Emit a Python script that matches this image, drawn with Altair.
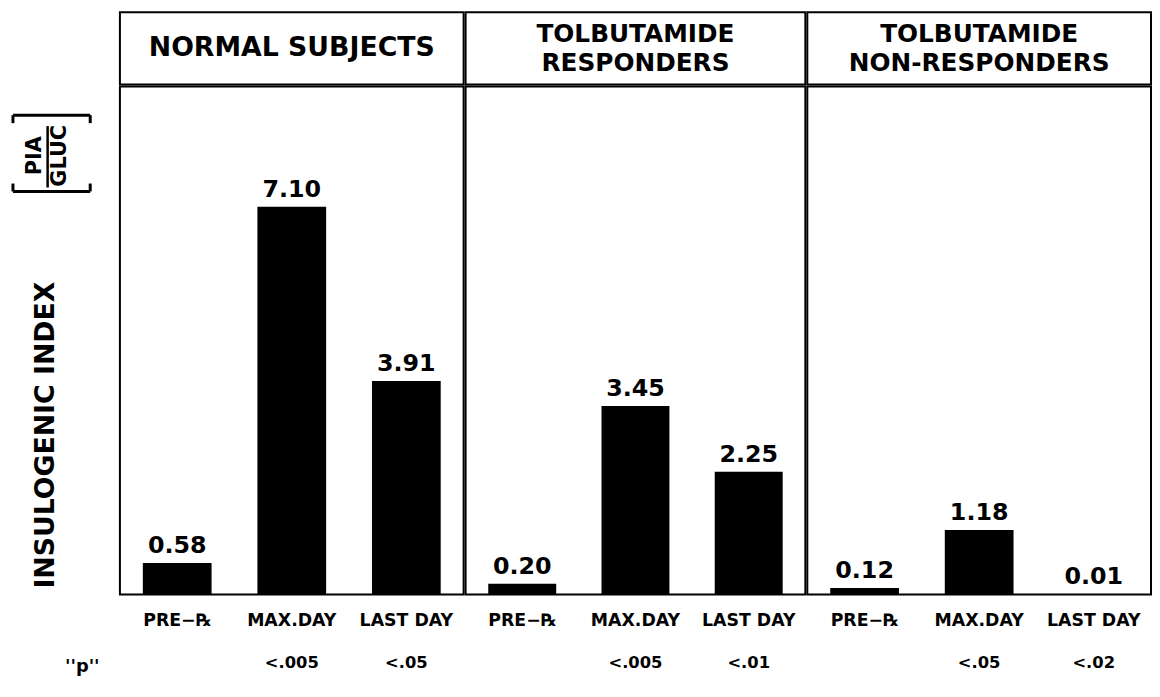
import altair as alt
import pandas as pd

FONT = "DejaVu Sans"

# ---- data ----
groups = ["NORMAL SUBJECTS", "TOLBUTAMIDE\nRESPONDERS", "TOLBUTAMIDE\nNON-RESPONDERS"]
periods = ["PRE\u2212\u211e", "MAX.DAY", "LAST DAY"]
normal_values = [0.58, 7.10, 3.91]
responder_values = [0.20, 3.45, 2.25]
nonresponder_values = [0.12, 1.18, 0.01]
normal_p = ["", "<.005", "<.05"]
responder_p = ["", "<.005", "<.01"]
nonresponder_p = ["", "<.05", "<.02"]
y_title = "INSULOGENIC INDEX"
frac_top = "PIA"
frac_bottom = "GLUC"
p_label = "''p''"

values = [normal_values, responder_values, nonresponder_values]
pvals = [normal_p, responder_p, nonresponder_p]

# ---- layout sizes ----
W = [347, 343, 347]
H_HEAD = 73
H_BAR = 513
LEFT = 110
Y_DOMAIN = [0, 9.3]
LINE_H = 29

frame = alt.ViewBackground(stroke="black", strokeWidth=2)
noframe = alt.ViewBackground(stroke="transparent")


def header(i):
    n_lines = groups[i].count("\n") + 1
    size = 27 if n_lines == 1 else 25
    df = pd.DataFrame({"g": [groups[i]]})
    return (
        alt.Chart(df)
        .mark_text(font=FONT, fontSize=size, fontWeight="bold", lineBreak="\n",
                   lineHeight=LINE_H, align="center", baseline="middle",
                   color="black")
        .encode(text="g:N", x=alt.value(W[i] / 2),
                y=alt.value(H_HEAD / 2 - (n_lines - 1) * LINE_H / 2))
        .properties(width=W[i], height=H_HEAD, view=frame)
    )


def bars(i):
    df = pd.DataFrame({"period": periods, "value": values[i], "p": pvals[i]})
    yscale = alt.Scale(domain=Y_DOMAIN)
    base = alt.Chart(df).encode(
        x=alt.X("period:N", sort=periods,
                scale=alt.Scale(paddingInner=0.4, paddingOuter=0.2),
                axis=alt.Axis(title=None, labelAngle=0, labelFont=FONT,
                              labelFontSize=17.5, labelFontWeight="bold",
                              labelColor="black", ticks=False,
                              tickSize=0, domain=False, labelPadding=17,
                              labelLimit=300, grid=False))
    )
    bar = base.mark_bar(color="black").encode(
        y=alt.Y("value:Q", scale=yscale, axis=None))
    lab = base.mark_text(baseline="bottom", dy=-5, font=FONT, fontSize=24,
                         fontWeight="bold", color="black").encode(
        y=alt.Y("value:Q", scale=yscale, axis=None),
        text=alt.Text("value:Q", format=".2f"))
    pt = base.mark_text(baseline="middle", font=FONT, fontSize=16.5,
                        fontWeight="bold", color="black").encode(
        y=alt.value(H_BAR + 69), text="p:N")
    return alt.layer(bar, lab, pt).properties(width=W[i], height=H_BAR, view=frame)


dummy = alt.Data(values=[{"a": 1}])

sp_head = (
    alt.Chart(dummy).mark_rule(strokeOpacity=0)
    .encode(x=alt.value(2), x2=alt.value(LEFT - 2), y=alt.value(H_HEAD / 2))
    .properties(width=LEFT, height=H_HEAD, view=noframe)
)

title_txt = alt.Chart(dummy).mark_text(
    font=FONT, fontSize=27, fontWeight="bold", angle=270, align="center",
    baseline="middle", color="black").encode(
    text=alt.value(y_title), x=alt.value(37), y=alt.value(352))
pia_txt = alt.Chart(dummy).mark_text(
    font=FONT, fontSize=21, fontWeight="bold", angle=270, align="center",
    baseline="middle", color="black").encode(
    text=alt.value(frac_top), x=alt.value(26), y=alt.value(70))
gluc_txt = alt.Chart(dummy).mark_text(
    font=FONT, fontSize=21, fontWeight="bold", angle=270, align="center",
    baseline="middle", color="black").encode(
    text=alt.value(frac_bottom), x=alt.value(52), y=alt.value(70))
frac_line = alt.Chart(dummy).mark_rule(color="black", strokeWidth=2.5).encode(
    x=alt.value(39), y=alt.value(40), y2=alt.value(102))
br_top = alt.Chart(dummy).mark_rule(color="black", strokeWidth=3).encode(
    x=alt.value(4), x2=alt.value(82), y=alt.value(29))
br_top_l = alt.Chart(dummy).mark_rule(color="black", strokeWidth=3).encode(
    x=alt.value(4), y=alt.value(29), y2=alt.value(37))
br_top_r = alt.Chart(dummy).mark_rule(color="black", strokeWidth=3).encode(
    x=alt.value(82), y=alt.value(29), y2=alt.value(37))
br_bot = alt.Chart(dummy).mark_rule(color="black", strokeWidth=3).encode(
    x=alt.value(4), x2=alt.value(82), y=alt.value(106))
br_bot_l = alt.Chart(dummy).mark_rule(color="black", strokeWidth=3).encode(
    x=alt.value(4), y=alt.value(98), y2=alt.value(106))
br_bot_r = alt.Chart(dummy).mark_rule(color="black", strokeWidth=3).encode(
    x=alt.value(82), y=alt.value(98), y2=alt.value(106))
p_txt = alt.Chart(dummy).mark_text(
    font=FONT, fontSize=18, fontWeight="bold", align="center",
    baseline="middle", color="black").encode(
    text=alt.value(p_label), x=alt.value(74), y=alt.value(586))

sp_bar = alt.layer(title_txt, pia_txt, gluc_txt, frac_line,
                   br_top, br_top_l, br_top_r, br_bot, br_bot_l, br_bot_r,
                   p_txt).properties(width=LEFT, height=H_BAR, view=noframe)

row1 = alt.hconcat(sp_head, header(0), header(1), header(2), spacing=0)
row2 = alt.hconcat(sp_bar, bars(0), bars(1), bars(2), spacing=0)

chart = (
    alt.vconcat(row1, row2, spacing=0)
    .properties(padding={"left": 0, "top": 0, "right": 0, "bottom": 0},
                background="white")
    .configure_concat(spacing=0)
)

chart.save("out.html", embed_options={"renderer": "svg", "actions": False})
